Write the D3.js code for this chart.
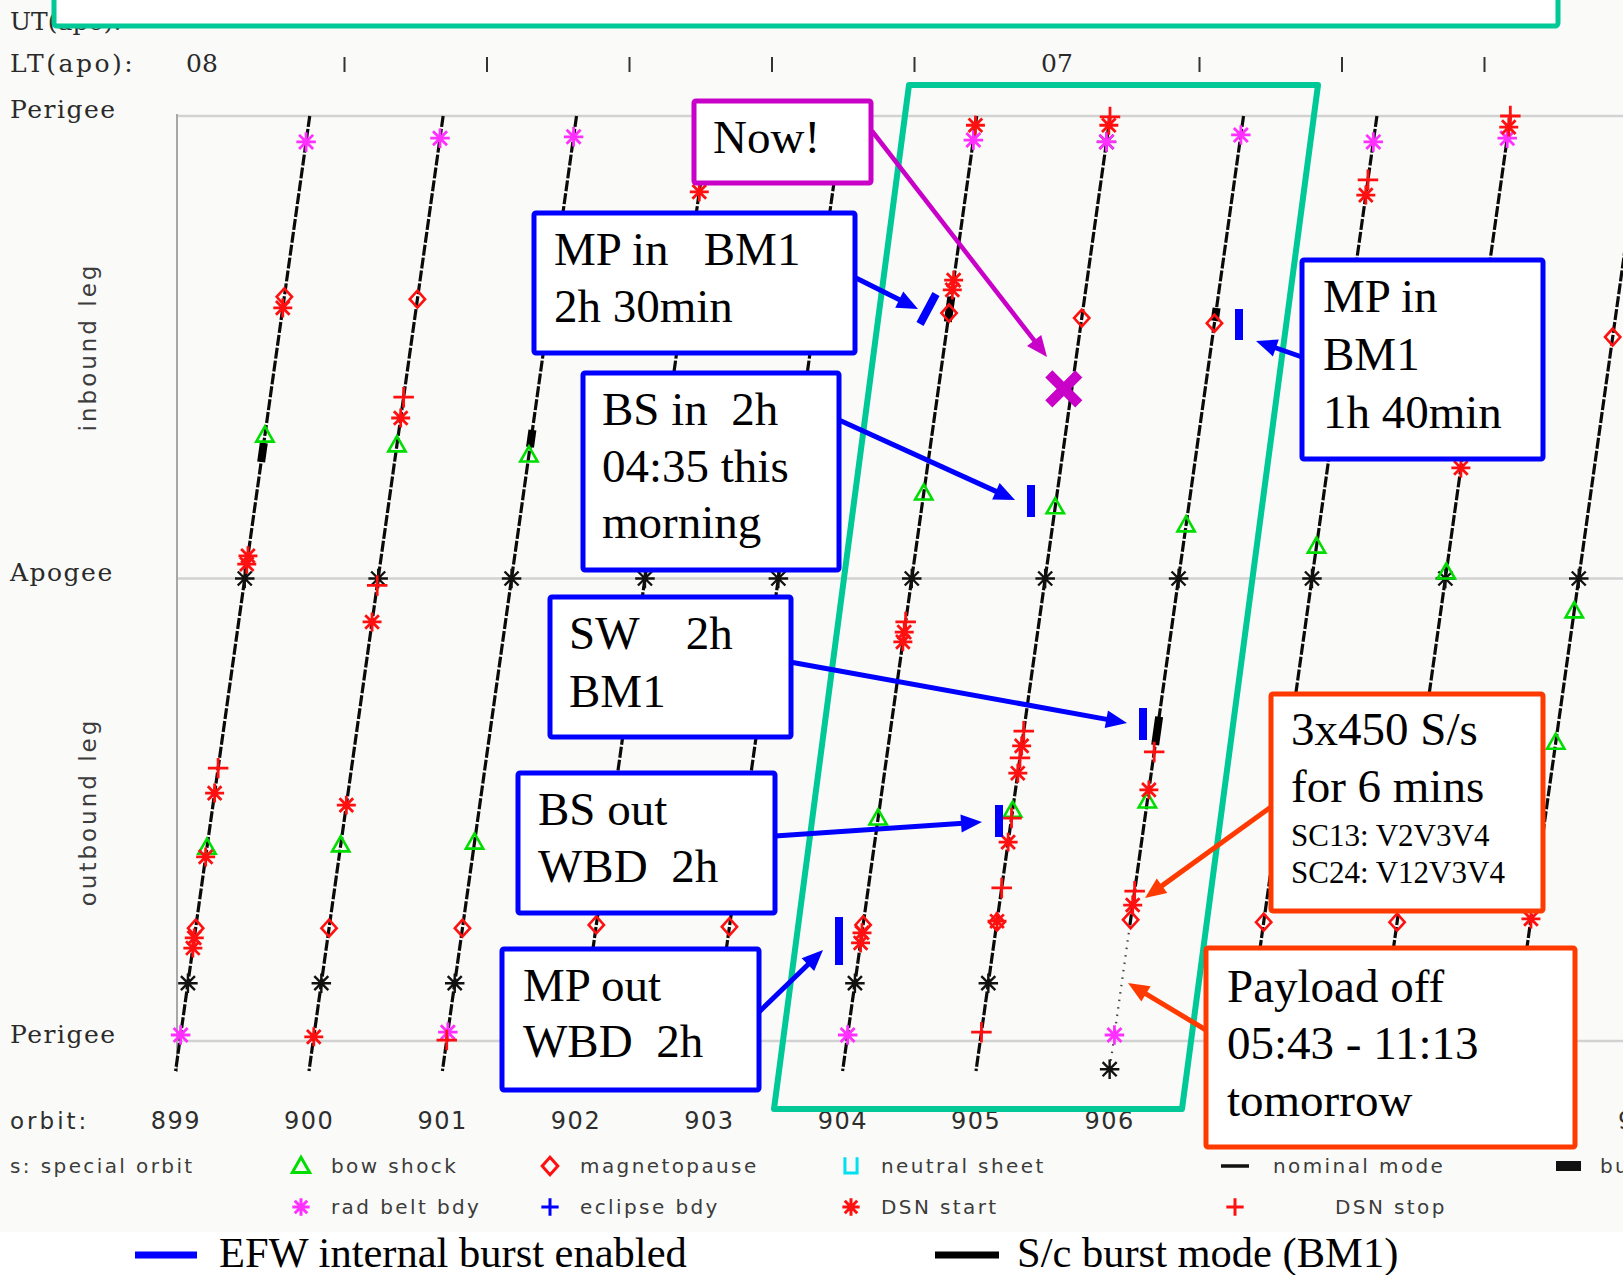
<!DOCTYPE html>
<html>
<head>
<meta charset="utf-8">
<script src="https://cdn.jsdelivr.net/npm/d3@7"></script>
<style>
body { margin: 0; background: #fff; }
svg { display: block; }
</style>
</head>
<body>
<script>
var width = 1623, height = 1275;

// orbit numbers and axis labels (907-909 sit under the "Payload off" box)
var orbits = [899, 900, 901, 902, 903, 904, 905, 906, 907, 908, 909];
var orbitLabels = [899, 900, 901, 902, 903, 904, 905, 906, 910];
var ltLabels = ["08", "", "", "", "", "", "07", "", "", ""];
var phaseLabels = ["Perigee", "Apogee", "Perigee"];

// events as [orbit, phase]; phase 0 = perigee (top), 1 = apogee, 2 = perigee (bottom)
var radBelt = [[899, 0.056], [899, 1.987], [900, 0.048], [901, 0.045], [901, 1.981], [904, 0.052],
    [904, 1.987], [905, 0.056], [906, 0.041], [906, 1.987], [907, 0.056], [908, 0.048]];
var dsnStart = [[899, 0.415], [899, 0.951], [899, 0.969], [899, 1.464], [899, 1.602], [899, 1.777], [899, 1.799],
    [900, 0.653], [900, 1.094], [900, 1.490], [900, 1.991], [902, 0.164],
    [904, 0.020], [904, 0.355], [904, 0.376], [904, 1.116], [904, 1.137], [904, 1.766], [904, 1.788],
    [905, 0.020], [905, 1.362], [905, 1.421], [905, 1.570], [905, 1.741],
    [906, 1.457], [906, 1.706], [907, 0.171], [908, 0.024], [908, 0.761], [909, 1.736]];
var dsnStop = [[899, 1.410], [900, 0.608], [900, 1.015], [901, 1.998], [904, 1.094],
    [905, 0.002], [905, 1.330], [905, 1.388], [905, 1.518], [905, 1.669], [905, 1.981],
    [906, 1.375], [906, 1.676], [907, 0.138], [908, 0.000]];
var magnetopause = [[899, 0.391], [899, 1.756], [900, 0.396], [900, 1.756], [901, 1.756], [902, 1.749],
    [903, 1.753], [904, 0.426], [904, 1.749], [905, 0.437], [905, 1.743], [906, 0.448], [906, 1.738],
    [907, 1.743], [908, 1.743], [909, 0.478]];
var bowShock = [[899, 0.690], [899, 1.581], [900, 0.711], [900, 1.576], [901, 0.733], [901, 1.570],
    [904, 0.815], [904, 1.518], [905, 0.845], [905, 1.501], [906, 0.884], [906, 1.481],
    [907, 0.930], [908, 0.986], [909, 1.070], [909, 1.354]];
var apsis = [[899, 1], [900, 1], [901, 1], [902, 1], [903, 1], [904, 1], [905, 1], [906, 1], [907, 1], [908, 1], [909, 1],
    [899, 1.875], [900, 1.875], [901, 1.875], [904, 1.875], [905, 1.875], [905, 0.056], [906, 2.061]];
// [orbit, phase from, phase to]
var burstBM1 = [[899, 0.707, 0.748], [901, 0.679, 0.716], [904, 0.391, 0.445], [906, 0.415, 0.443], [906, 1.299, 1.360]];
var payloadOff = [[906, 1.75, 2.061]];
var nowPos = [905, 0.59];

var lineEnd = 2.065;
var slant = 0.487;   // orbit fraction per unit of phase

var svg = d3.select("body").append("svg")
    .attr("width", width)
    .attr("height", height);

svg.append("rect").attr("width", width).attr("height", 1232).attr("fill", "#fafbf8");

var xScale = d3.scaleLinear().domain([899, 910]).range([179.8, 1647.2]);
var yScale = d3.scaleLinear().domain([0, 2]).range([116, 1041]);
var ltScale = d3.scaleLinear().domain([0, 9]).range([202, 1484.5]);

var px = function (orbit, phase) {
    return xScale(orbit + slant * (2 - phase));
}
var line = d3.line();

// symbols
var asterisk = {
    draw: function (c, size) {
        var r = Math.sqrt(size) / 2, d = r * 0.72;
        c.moveTo(0, -r); c.lineTo(0, r);
        c.moveTo(-r, 0); c.lineTo(r, 0);
        c.moveTo(-d, -d); c.lineTo(d, d);
        c.moveTo(-d, d); c.lineTo(d, -d);
    }
};
var plus = {
    draw: function (c, size) {
        var r = Math.sqrt(size) / 2;
        c.moveTo(0, -r); c.lineTo(0, r);
        c.moveTo(-r, 0); c.lineTo(r, 0);
    }
};
var diamond = {
    draw: function (c, size) {
        var r = Math.sqrt(size) / 2;
        c.moveTo(0, -r); c.lineTo(r * 0.9, 0); c.lineTo(0, r); c.lineTo(-r * 0.9, 0); c.closePath();
    }
};
var triangle = {
    draw: function (c, size) {
        var r = Math.sqrt(size) / 2;
        c.moveTo(0, -r); c.lineTo(r, r * 0.75); c.lineTo(-r, r * 0.75); c.closePath();
    }
};
var cup = {
    draw: function (c, size) {
        var r = Math.sqrt(size) / 2;
        c.moveTo(-r * 0.7, -r); c.lineTo(-r * 0.7, r * 0.8); c.lineTo(r * 0.7, r * 0.8); c.lineTo(r * 0.7, -r);
    }
};

// grid lines
svg.selectAll(".grid")
    .data([0, 1, 2])
    .enter()
    .append("line")
    .attr("x1", 177).attr("x2", width)
    .attr("y1", function (d) { return yScale(d); })
    .attr("y2", function (d) { return yScale(d); })
    .attr("stroke", "#d2d2d2")
    .attr("stroke-width", 2.5);
svg.append("line")
    .attr("x1", 177).attr("x2", 177).attr("y1", 114).attr("y2", 1072)
    .attr("stroke", "#a8a8a8").attr("stroke-width", 2);

svg.selectAll(".phaseLabel")
    .data(phaseLabels)
    .enter()
    .append("text")
    .text(function (d) { return d; })
    .attr("x", 10)
    .attr("y", function (d, i) { return yScale(i) + 2; })
    .attr("font-family", "DejaVu Serif")
    .attr("font-size", "25px")
    .attr("letter-spacing", "1.5px")
    .attr("fill", "#2a2a2a");

// leg labels
[["inbound leg", 347], ["outbound leg", 812]].forEach(function (d) {
    svg.append("text")
        .text(d[0])
        .attr("transform", "translate(96," + d[1] + ") rotate(-90)")
        .attr("text-anchor", "middle")
        .attr("font-family", "DejaVu Sans")
        .attr("font-size", "23px")
        .attr("letter-spacing", "3px")
        .attr("fill", "#3c3c3c");
});

// orbit lines
svg.selectAll(".orbit")
    .data(orbits)
    .enter()
    .append("path")
    .attr("d", function (o) {
        var off = payloadOff.find(function (p) { return p[0] === o; });
        var end = off ? off[1] : lineEnd;
        return line([[px(o, 0), yScale(0)], [px(o, end), yScale(end)]]);
    })
    .attr("stroke", "#0a0a0a")
    .attr("stroke-width", 3.2)
    .attr("stroke-dasharray", "11 2")
    .attr("fill", "none");

svg.selectAll(".payloadOff")
    .data(payloadOff)
    .enter()
    .append("path")
    .attr("d", function (d) { return line([[px(d[0], d[1]), yScale(d[1])], [px(d[0], d[2]), yScale(d[2])]]); })
    .attr("stroke", "#444")
    .attr("stroke-width", 2.2)
    .attr("stroke-dasharray", "1.5 6")
    .attr("fill", "none");

svg.selectAll(".burst")
    .data(burstBM1)
    .enter()
    .append("path")
    .attr("d", function (d) { return line([[px(d[0], d[1]), yScale(d[1])], [px(d[0], d[2]), yScale(d[2])]]); })
    .attr("stroke", "#000")
    .attr("stroke-width", 8)
    .attr("fill", "none");

var drawMarks = function (data, type, size, color, width) {
    svg.append("g").selectAll("path")
        .data(data)
        .enter()
        .append("path")
        .attr("d", d3.symbol().type(type).size(size))
        .attr("transform", function (d) { return "translate(" + px(d[0], d[1]) + "," + yScale(d[1]) + ")"; })
        .attr("fill", "none")
        .attr("stroke", color)
        .attr("stroke-width", width);
}
drawMarks(apsis, asterisk, 380, "#111", 2.4);
drawMarks(magnetopause, diamond, 290, "#ff1010", 2.6);
drawMarks(bowShock, triangle, 300, "#00dd00", 2.6);
drawMarks(radBelt, asterisk, 380, "#ff30ff", 2.8);
drawMarks(dsnStart, asterisk, 360, "#ff1010", 2.8);
drawMarks(dsnStop, plus, 420, "#ff1010", 2.8);

// top axis rows
svg.append("text").text("UT(apo):").attr("x", 10).attr("y", 30)
    .attr("font-family", "DejaVu Serif").attr("font-size", "25px").attr("fill", "#2a2a2a");
svg.append("text").text("LT(apo):").attr("x", 10).attr("y", 72)
    .attr("font-family", "DejaVu Serif").attr("font-size", "25px").attr("letter-spacing", "2.5px").attr("fill", "#2a2a2a");
var lt = svg.selectAll(".lt").data(ltLabels).enter().append("g")
    .attr("transform", function (d, i) { return "translate(" + ltScale(i) + ",0)"; });
lt.filter(function (d) { return d !== ""; }).append("text")
    .text(function (d) { return d; })
    .attr("y", 72).attr("text-anchor", "middle")
    .attr("font-family", "DejaVu Serif").attr("font-size", "25px").attr("fill", "#2a2a2a");
lt.filter(function (d) { return d === ""; }).append("line")
    .attr("y1", 57).attr("y2", 72).attr("stroke", "#333").attr("stroke-width", 2);

// orbit numbers
svg.append("text").text("orbit:").attr("x", 10).attr("y", 1129)
    .attr("font-family", "DejaVu Sans").attr("font-size", "23px").attr("letter-spacing", "3px").attr("fill", "#2e2e2e");
svg.selectAll(".orbitLabel")
    .data(orbitLabels)
    .enter()
    .append("text")
    .text(function (d) { return d; })
    .attr("x", function (d) { return xScale(d) - 4; })
    .attr("y", 1129)
    .attr("text-anchor", "middle")
    .attr("font-family", "DejaVu Sans")
    .attr("font-size", "24px")
    .attr("letter-spacing", "1.5px")
    .attr("fill", "#2e2e2e");

// symbol legend
var legendItems = [
    { x: 301, y: 1166, type: triangle, color: "#00dd00", label: "bow shock" },
    { x: 550, y: 1166, type: diamond, color: "#ff1010", label: "magnetopause" },
    { x: 851, y: 1166, type: cup, color: "#00e0f0", label: "neutral sheet" },
    { x: 301, y: 1207, type: asterisk, color: "#ff30ff", label: "rad belt bdy" },
    { x: 550, y: 1207, type: plus, color: "#0000ff", label: "eclipse bdy" },
    { x: 851, y: 1207, type: asterisk, color: "#ff1010", label: "DSN start" },
    { x: 1235, y: 1207, type: plus, color: "#ff1010", label: "DSN stop", tx: 1335 }
];
var leg = svg.selectAll(".leg").data(legendItems).enter().append("g");
leg.append("path")
    .attr("d", function (d) { return d3.symbol().type(d.type).size(300)(); })
    .attr("transform", function (d) { return "translate(" + d.x + "," + d.y + ")"; })
    .attr("fill", "none")
    .attr("stroke", function (d) { return d.color; })
    .attr("stroke-width", 3);
var legendText = function (label, x, y) {
    svg.append("text").text(label).attr("x", x).attr("y", y + 7)
        .attr("font-family", "DejaVu Sans").attr("font-size", "20px")
        .attr("letter-spacing", "2.4px").attr("fill", "#3c3c3c");
}
leg.each(function (d) { legendText(d.label, d.tx || d.x + 30, d.y); });
legendText("s: special orbit", 10, 1166);
svg.append("line").attr("x1", 1221).attr("x2", 1249).attr("y1", 1166).attr("y2", 1166)
    .attr("stroke", "#111").attr("stroke-width", 3.5);
legendText("nominal mode", 1273, 1166);
svg.append("rect").attr("x", 1556).attr("y", 1161).attr("width", 25).attr("height", 10).attr("fill", "#111");
legendText("burst mode", 1600, 1166);

// bottom legend
[[135, 197, "#0000ff", "EFW internal burst enabled", 219], [935, 999, "#000", "S/c burst mode (BM1)", 1017]].forEach(function (d) {
    svg.append("line").attr("x1", d[0]).attr("x2", d[1]).attr("y1", 1255).attr("y2", 1255)
        .attr("stroke", d[2]).attr("stroke-width", 7);
    svg.append("text").text(d[3]).attr("x", d[4]).attr("y", 1267)
        .attr("font-family", "Liberation Serif").attr("font-size", "42.5px").attr("fill", "#000");
});

// annotation layer
var teal = "#00c896", blue = "#0000ff", orange = "#ff3a00", magenta = "#c800c8";

svg.append("rect").attr("x", 54).attr("y", -30).attr("width", 1504).attr("height", 56).attr("rx", 3)
    .attr("fill", "#fff").attr("stroke", teal).attr("stroke-width", 5);
svg.append("path").attr("d", "M909,85L1318,85L1182,1109L774,1109Z")
    .attr("fill", "none").attr("stroke", teal).attr("stroke-width", 6).attr("stroke-linejoin", "round");

var arrows = [
    [872, 131, 1047, 357, magenta, 4.5],
    [856, 278, 918, 309, blue, 5], [839, 420, 1015, 500, blue, 5], [790, 662, 1127, 723, blue, 5],
    [775, 836, 982, 822, blue, 5], [759, 1012, 823, 950, blue, 5], [1302, 357, 1256, 341, blue, 5],
    [1271, 807, 1145, 898, orange, 5], [1206, 1030, 1128, 983, orange, 5]
];
arrows.forEach(function (a) {
    var dx = a[2] - a[0], dy = a[3] - a[1], len = Math.sqrt(dx * dx + dy * dy);
    var ux = dx / len, uy = dy / len, hl = 21, hw = 9;
    var bx = a[2] - ux * hl, by = a[3] - uy * hl;
    svg.append("line").attr("x1", a[0]).attr("y1", a[1]).attr("x2", bx + ux * 2).attr("y2", by + uy * 2)
        .attr("stroke", a[4]).attr("stroke-width", a[5]);
    svg.append("path")
        .attr("d", "M" + a[2] + "," + a[3] + "L" + (bx - uy * hw) + "," + (by + ux * hw) + "L" + (bx + uy * hw) + "," + (by - ux * hw) + "Z")
        .attr("fill", a[4]);
});

var efwTicks = [[920, 324, 936, 294], [1031, 485, 1031, 517], [1143, 708, 1143, 740],
    [999, 805, 999, 837], [839, 917, 839, 965], [1239, 309, 1239, 340]];
svg.selectAll(".efw").data(efwTicks).enter().append("line")
    .attr("x1", function (d) { return d[0]; }).attr("y1", function (d) { return d[1]; })
    .attr("x2", function (d) { return d[2]; }).attr("y2", function (d) { return d[3]; })
    .attr("stroke", blue).attr("stroke-width", 8);

// "now" position
var nx = px(nowPos[0], nowPos[1]) - 8, ny = yScale(nowPos[1]);
svg.append("path")
    .attr("d", "M" + (nx - 15) + "," + (ny - 15) + "L" + (nx + 15) + "," + (ny + 15) + "M" + (nx - 15) + "," + (ny + 15) + "L" + (nx + 15) + "," + (ny - 15))
    .attr("stroke", magenta).attr("stroke-width", 10);

var callouts = [
    { x: 694, y: 101, w: 177, h: 82, color: magenta, tx: 713, ty: [153], lines: ["Now!"] },
    { x: 534, y: 213, w: 321, h: 140, color: blue, tx: 554, ty: [265, 322], lines: ["MP in   BM1", "2h 30min"] },
    { x: 583, y: 373, w: 256, h: 197, color: blue, tx: 602, ty: [425, 482, 538], lines: ["BS in  2h", "04:35 this", "morning"] },
    { x: 550, y: 597, w: 241, h: 140, color: blue, tx: 569, ty: [649, 707], lines: ["SW    2h", "BM1"] },
    { x: 518, y: 773, w: 257, h: 140, color: blue, tx: 538, ty: [825, 882], lines: ["BS out", "WBD  2h"] },
    { x: 502, y: 949, w: 257, h: 141, color: blue, tx: 523, ty: [1001, 1057], lines: ["MP out", "WBD  2h"] },
    { x: 1302, y: 260, w: 241, h: 199, color: blue, tx: 1323, ty: [312, 370, 428], lines: ["MP in", "BM1", "1h 40min"] },
    { x: 1271, y: 694, w: 272, h: 217, color: orange, tx: 1291, ty: [745, 802, 846, 883], size: [47, 47, 31, 31],
      lines: ["3x450 S/s", "for 6 mins", "SC13: V2V3V4", "SC24: V12V3V4"] },
    { x: 1206, y: 948, w: 369, h: 199, color: orange, tx: 1227, ty: [1002, 1059, 1116], lines: ["Payload off", "05:43 - 11:13", "tomorrow"] }
];
var box = svg.selectAll(".box").data(callouts).enter().append("g");
box.append("rect")
    .attr("x", function (d) { return d.x; }).attr("y", function (d) { return d.y; })
    .attr("width", function (d) { return d.w; }).attr("height", function (d) { return d.h; })
    .attr("rx", 2)
    .attr("fill", "#fff")
    .attr("stroke", function (d) { return d.color; })
    .attr("stroke-width", 5);
box.each(function (d) {
    var g = d3.select(this);
    d.lines.forEach(function (t, i) {
        g.append("text").text(t)
            .attr("x", d.tx).attr("y", d.ty[i])
            .attr("font-family", "Liberation Serif")
            .attr("font-size", (d.size ? d.size[i] : 47) + "px")
            .style("white-space", "pre")
            .attr("fill", "#000");
    });
});
</script>
</body>
</html>
